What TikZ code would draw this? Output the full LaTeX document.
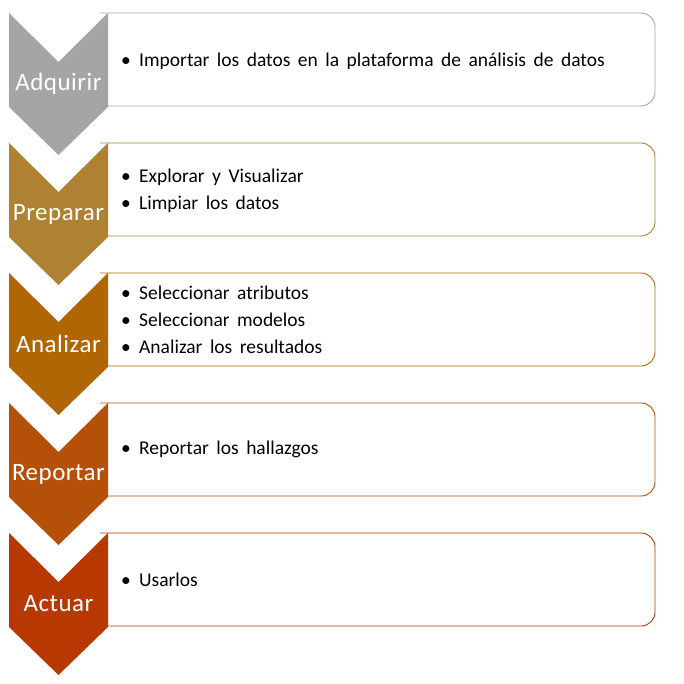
\documentclass[tikz,border=0pt]{standalone}
\usepackage{fontspec}
\setmainfont{Carlito}
\newfontfamily\bodyfont[WordSpace=1.7]{Carlito}
\newfontfamily\labfont[LetterSpace=2]{Carlito}
\begin{document}
\begin{tikzpicture}[x=1pt,y=-1pt,
  cbox/.style={draw=#1,line width=0.9pt,fill=white,rounded corners=14pt},
  lab/.style={text=white,font=\labfont\fontsize{25}{28}\selectfont,anchor=center,inner sep=0pt},
  items/.style={anchor=west,align=left,inner sep=0pt,font=\bodyfont\fontsize{19.5}{27}\selectfont}]
\definecolor{cA}{RGB}{165,165,165}
\definecolor{cB}{RGB}{174,130,50}
\definecolor{cC}{RGB}{176,102,4}
\definecolor{cD}{RGB}{180,80,8}
\definecolor{cE}{RGB}{184,56,2}
\useasboundingbox (0,0) rectangle (684,684);
\newcommand{\bl}{\makebox[18pt][l]{\textbullet}}
\foreach \c/\y/\l [count=\i] in {cA/13/Adquirir,cB/143/Preparar,cC/273/Analizar,cD/403/Reportar,cE/533/Actuar}{
  \draw[cbox=\c] (100,\y) -- (655,\y) -- (655,\y+93) -- (100,\y+93);
  \fill[\c] (9,\y) -- (58.5,\y+49) -- (108,\y) -- (108,\y+94) -- (58.5,\y+142) -- (9,\y+94) -- cycle;
  \node[lab] (L\i) at (58.5,\y+71) {\l};
}
\node[items] (T1) at (121,61.5) {\bl Importar los datos en la plataforma de análisis de datos};
\node[items] (T2) at (121,190.5) {\bl Explorar y Visualizar\\\bl Limpiar los datos};
\node[items] (T3) at (121,319.5) {\bl Seleccionar atributos\\\bl Seleccionar modelos\\\bl Analizar los resultados};
\node[items] (T4) at (121,449.5) {\bl Reportar los hallazgos};
\node[items] (T5) at (121,579.5) {\bl Usarlos};
\end{tikzpicture}
\end{document}
